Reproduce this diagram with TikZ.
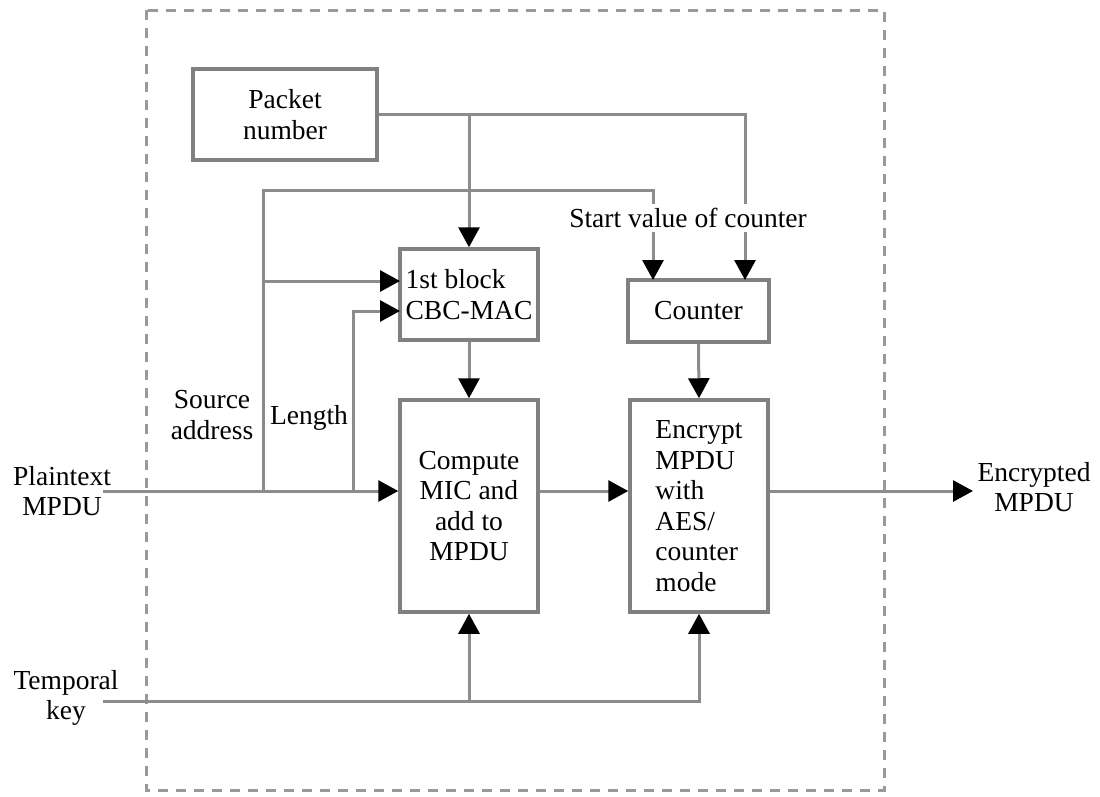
\documentclass[tikz,border=0pt]{standalone}
\usepackage{fontspec}
\setmainfont{Liberation Serif}
\usetikzlibrary{arrows.meta,calc}
\begin{document}
\begin{tikzpicture}[x=1pt,y=-1pt,
  font=\fontsize{27.5}{30.5}\selectfont,
  wire/.style={draw=black!45,line width=3pt},
  arr/.style={wire,-{Triangle[length=20pt,width=21pt,color=black]}},
  blockbox/.style={draw=black!50,line width=3.5pt,fill=white,inner sep=0pt,align=left},
  lbl/.style={inner sep=1pt,align=center}]
\useasboundingbox (0,0) rectangle (1100,796);
% outer dashed frame
\draw[draw=black!40,line width=3pt,dash pattern=on 10pt off 8pt] (146,10) rectangle (884,790);
% boxes
\node[blockbox,minimum width=184,minimum height=91,align=center] (pn) at (285,114.5) {Packet\\number};
\node[blockbox,minimum width=138,minimum height=91] (blk) at (469,294.5) {1st block\\CBC-MAC};
\node[blockbox,minimum width=141,minimum height=62] (cnt) at (698.5,311) {Counter};
\node[blockbox,minimum width=138,minimum height=212,align=center] (cmp) at (469,506) {Compute\\MIC and\\add to\\MPDU};
\node[blockbox,minimum width=138,minimum height=212] (enc) at (699,506) {Encrypt\\MPDU\\with\\AES/\\counter\\mode};
% labels
\node[lbl] (lpt) at (62,491) {Plaintext\\MPDU};
\node[lbl] (ltk) at (66,698) {Temporal\\key};
\node[lbl] (lsa) at (212,415) {Source\\address};
\node[lbl] (llen) at (309,418) {Length};
\node[lbl] (lout) at (1034,487) {Encrypted\\MPDU};
% coordinates
\coordinate (pin) at (103,491);
\coordinate (tin) at (103,701);
\coordinate (out) at (973,491);
\coordinate (jsa) at (263,491);
\coordinate (jlen) at (353,491);
\coordinate (cin1) at (653,280);
\coordinate (cin2) at (745,280);
\coordinate (bin1) at (400,281);
\coordinate (bin2) at (400,311);
\coordinate (jtk) at (469,701);
% connectors
\draw[arr] (pn.east) -| (cin2);
\draw[arr] (pn.east -| blk.north) -- (blk.north);
\draw[arr] (jsa) -- (263,190) -| (cin1);
\draw[arr] (jsa |- bin1) -- (bin1);
\draw[arr] (jlen) |- (bin2);
\draw[arr] (pin) -- (pin -| cmp.west);
\draw[arr] (blk.south) -- (cmp.north);
\draw[arr] (cnt.south) -- (enc.north);
\draw[arr] (pin -| cmp.east) -- (pin -| enc.west);
\draw[arr] (pin -| enc.east) -- (out);
\draw[arr] (tin) -| (enc.south);
\draw[arr] (jtk) -- (cmp.south);
% start value label over the lines
\node[lbl,fill=white,inner sep=4pt] (lsv) at (688,218) {Start value of counter};
\end{tikzpicture}
\end{document}
